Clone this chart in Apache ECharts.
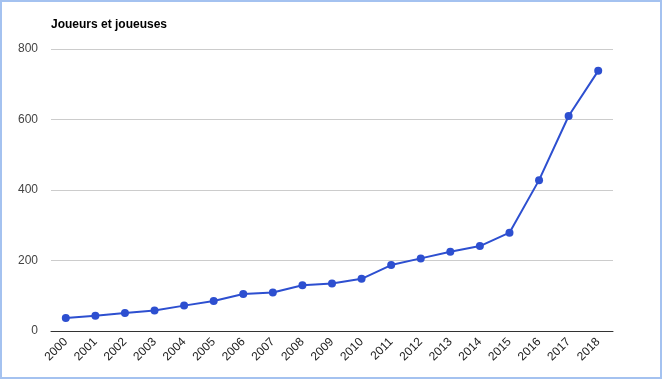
<!DOCTYPE html>
<html>
<head>
<meta charset="utf-8">
<script src="https://cdn.jsdelivr.net/npm/echarts@6/dist/echarts.min.js"></script>
<style>html,body{margin:0;padding:0;background:#fff}#c{width:663px;height:380px}</style>
</head>
<body>
<div id="c"></div>
<script>
const years = ['2000','2001','2002','2003','2004','2005','2006','2007','2008','2009','2010','2011','2012','2013','2014','2015','2016','2017','2018'];
const players = [37,43,51,58,72,85,105,109,130,135,148,187,206,225,241,279,428,610,738];
const yTicks = {min:0, max:800, interval:200};
const chart = echarts.init(document.getElementById('c'));
chart.setOption({
  animation:false,
  backgroundColor:'#fff',
  title:{text:'Joueurs et joueuses', left:46, top:14, textStyle:{fontFamily:'Liberation Sans, Arial', fontSize:12, fontWeight:'bold', color:'#000'}},
  graphic:[{type:'rect', shape:{x:1,y:1,width:660,height:377}, style:{fill:'none', stroke:'#a4c2f0', lineWidth:2}, z:100}],
  grid:{left:51, right:50, top:49, bottom:49},
  xAxis:{type:'category', data:years, boundaryGap:true,
    axisLine:{lineStyle:{color:'#333', width:1}}, axisTick:{show:false},
    axisLabel:{rotate:45, color:'#222', fontFamily:'Liberation Sans, Arial', fontSize:12, margin:9, interval:0}},
  yAxis:{type:'value', min:yTicks.min, max:yTicks.max, interval:yTicks.interval,
    axisLine:{show:false}, axisTick:{show:false},
    splitLine:{lineStyle:{color:'#ccc', width:1}},
    axisLabel:{color:'#444', fontFamily:'Liberation Sans, Arial', fontSize:12, margin:13, padding:[6,0,0,0]}},
  series:[{type:'line', data:players, symbol:'circle', symbolSize:8,
    lineStyle:{color:'#2d4fd0', width:2}, itemStyle:{color:'#2d4fd0'}}]
});
</script>
</body>
</html>
